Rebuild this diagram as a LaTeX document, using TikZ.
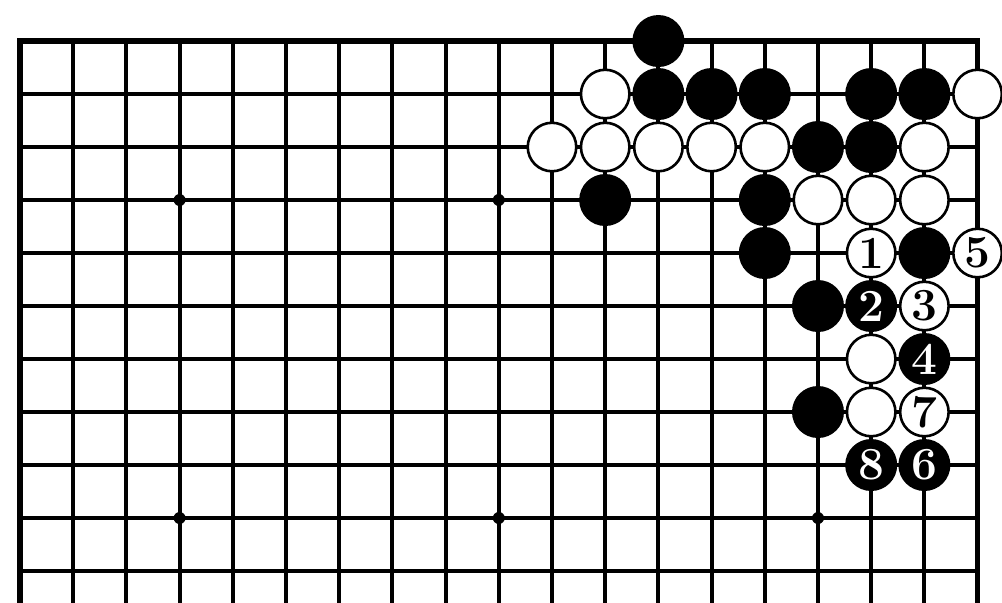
\documentclass[tikz,border=0pt]{standalone}
\usepackage{xcolor}
\usepackage{tikz}
\definecolor{ink}{HTML}{000000}
\definecolor{paper}{HTML}{FFFFFF}
\tikzset{
  gridln/.style ={line width=4pt, draw=ink},
  edgeln/.style ={line width=5.5pt, draw=ink, line join=miter},
  hoshi/.style  ={circle, fill=ink, inner sep=0pt, minimum size=12pt},
  bstone/.style ={circle, fill=ink, inner sep=0pt, minimum size=52pt,
                  text=paper, font=\fontsize{46}{46}\selectfont\bfseries},
  wstone/.style ={circle, draw=ink, fill=paper, line width=2.6pt, inner sep=0pt, minimum size=48.5pt,
                  text=ink, font=\fontsize{46}{46}\selectfont\bfseries},
}

\begin{document}
\begin{tikzpicture}[x=53.2pt, y=-53pt]
\fill[paper] (-0.376,-0.774) rectangle (18.459,10.585);
\useasboundingbox (-0.376,-0.774) rectangle (18.459,10.585);

% board
\foreach \i in {1,...,17} \draw[gridln] (\i,0) -- (\i,10.6);
\foreach \j in {1,...,10} \draw[gridln] (0,\j) -- (18,\j);
\draw[edgeln] (0,10.6) -- (0,0) -- (18,0) -- (18,10.6);
\foreach \i in {3,9,15} \foreach \j in {3,9} \node[hoshi] (h\i-\j) at (\i,\j) {};

% stones on the board
\foreach \i/\j in {12/0, 12/1,13/1,14/1,16/1,17/1, 15/2,16/2, 11/3,14/3, 14/4,17/4, 15/5, 15/7}
  \node[bstone] (b\i-\j) at (\i,\j) {};
\foreach \i/\j in {11/1,18/1, 10/2,11/2,12/2,13/2,14/2,17/2, 15/3,16/3,17/3, 16/6, 16/7}
  \node[wstone] (w\i-\j) at (\i,\j) {};

% numbered moves
\node[wstone] (mv1) at (16,4) {1};
\node[bstone] (mv2) at (16,5) {2};
\node[wstone] (mv3) at (17,5) {3};
\node[bstone] (mv4) at (17,6) {4};
\node[wstone] (mv5) at (18,4) {5};
\node[bstone] (mv6) at (17,8) {6};
\node[wstone] (mv7) at (17,7) {7};
\node[bstone] (mv8) at (16,8) {8};
\end{tikzpicture}
\end{document}
